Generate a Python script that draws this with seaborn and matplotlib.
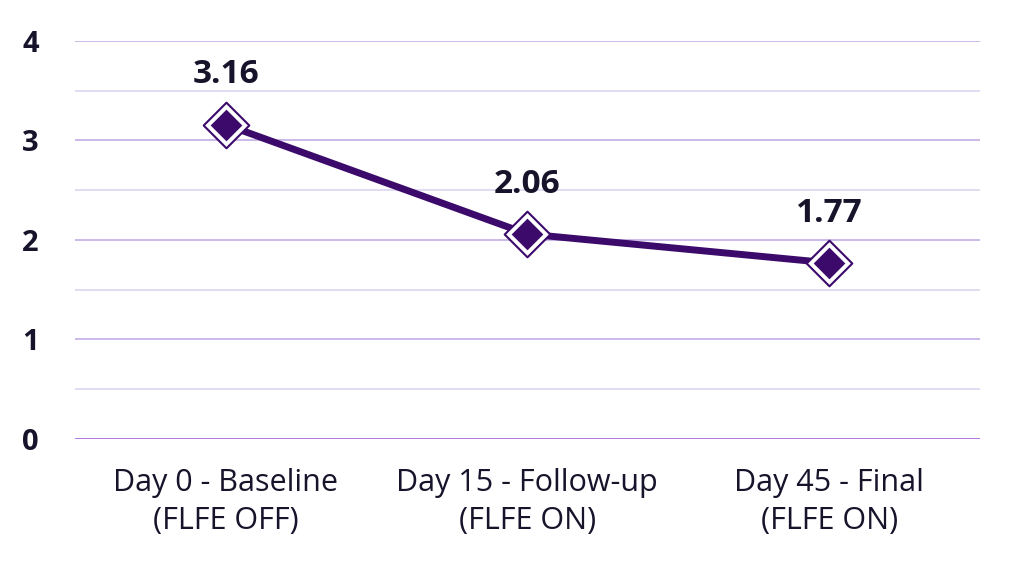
import numpy as np
import pandas as pd
import matplotlib
matplotlib.use('Agg')
import matplotlib.pyplot as plt
import seaborn as sns

# data
stages = ['Day 0 - Baseline\n(FLFE OFF)', 'Day 15 - Follow-up\n(FLFE ON)', 'Day 45 - Final\n(FLFE ON)']
scores = [3.16, 2.06, 1.77]
y_ticks = [0, 1, 2, 3, 4]

df = pd.DataFrame({'stage': stages, 'score': scores})

sns.set_theme(style='white')
plt.rcParams['font.family'] = ['Open Sans', 'DejaVu Sans']

dark = '#3b0a6b'
text_col = '#16132b'

fig = plt.figure(figsize=(10.24, 5.66), dpi=100)
ax = fig.add_axes([0.073, 0.2244, 0.884, 0.7032])

# grid lines: integers a bit stronger, halves lighter
for v in np.arange(0.5, 4.01, 0.5):
    col = '#c2aee6' if v % 1 == 0 else '#ddd6f0'
    ax.axhline(v, color=col, lw=1.2, zorder=0)
ax.axhline(0, color='#9b4fd0', lw=1.8, zorder=1)

# main line
sns.lineplot(data=df, x='stage', y='score', ax=ax, color=dark, lw=5,
             sort=False, zorder=3)
# diamond markers: outer outline, white ring, dark fill
sns.scatterplot(data=df, x='stage', y='score', ax=ax, marker='D', s=540,
                color='white', edgecolor=dark, linewidth=1.5, zorder=4)
sns.scatterplot(data=df, x='stage', y='score', ax=ax, marker='D', s=260,
                color=dark, edgecolor=dark, linewidth=0, zorder=5)

for i, v in enumerate(scores):
    ax.text(i, v + 0.5, f'{v:.2f}', ha='center', va='center', fontsize=24,
            fontweight='bold', color=text_col)

ax.set_xlim(-0.5, 2.5)
ax.set_ylim(0, 4)
ax.set_yticks(y_ticks)
ax.set_yticklabels([str(t) for t in y_ticks], fontsize=21, fontweight='bold', color=text_col)
ax.tick_params(axis='y', pad=26, length=0)
ax.tick_params(axis='x', pad=21, length=0, labelsize=22, labelcolor=text_col)
for lbl in ax.get_xticklabels():
    lbl.set_linespacing(1.35)
ax.set_xlabel('')
ax.set_ylabel('')
sns.despine(ax=ax, left=True, bottom=True)

fig.savefig('out.png', dpi=100)
